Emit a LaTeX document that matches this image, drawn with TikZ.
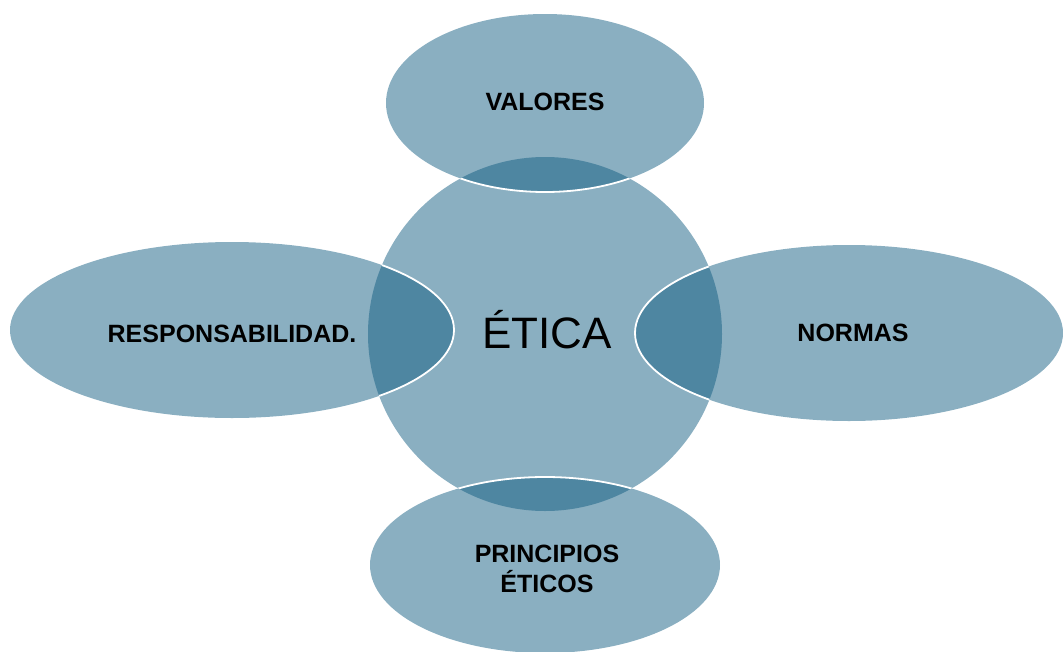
\documentclass[tikz,border=0pt]{standalone}
\usepackage{fontspec}
\setmainfont{Liberation Sans}
\definecolor{lightblue}{RGB}{138,175,193}
\definecolor{darkblue}{RGB}{78,134,161}
\tikzset{
  shapefill/.style={fill=lightblue},
  overlapfill/.style={fill=darkblue},
  rim/.style={draw=white, line width=1.8pt},
  lbl/.style={font=\fontsize{25}{30}\selectfont\bfseries, text=black, inner sep=0pt},
  centerlbl/.style={font=\fontsize{44}{50}\selectfont, text=black, inner sep=0pt}
}
\begin{document}
\begin{tikzpicture}[x=1pt,y=-1pt]
\useasboundingbox (0,0) rectangle (1063,651);
\def\circlepath{(545,334) circle (177pt)}
% central circle
\fill[lightblue] \circlepath;
% outer ellipses
\fill[lightblue] (545,103) ellipse (159pt and 89pt);
\fill[lightblue] (232,330) ellipse (222pt and 88pt);
\fill[lightblue] (849,333) ellipse (214pt and 88pt);
\fill[lightblue] (545,565) ellipse (175pt and 88pt);
% overlaps
\begin{scope}
  \clip \circlepath;
  \fill[darkblue] (545,103) ellipse (159pt and 89pt);
  \fill[darkblue] (232,330) ellipse (222pt and 88pt);
  \fill[darkblue] (849,333) ellipse (214pt and 88pt);
  \fill[darkblue] (545,565) ellipse (175pt and 88pt);
  \draw[rim] (545,103) ellipse (159pt and 89pt);
  \draw[rim] (232,330) ellipse (222pt and 88pt);
  \draw[rim] (849,333) ellipse (214pt and 88pt);
  \draw[rim] (545,565) ellipse (175pt and 88pt);
\end{scope}
% labels
\node[centerlbl, anchor=base] (etica) at (547,348) {ÉTICA};
\node[lbl, anchor=base] (valores) at (545,110) {VALORES};
\node[lbl, anchor=base] (resp) at (232,342) {RESPONSABILIDAD.};
\node[lbl, anchor=base] (normas) at (853,341) {NORMAS};
\node[lbl, align=center, anchor=center] (principios) at (547,569) {PRINCIPIOS\\ÉTICOS};
\end{tikzpicture}
\end{document}
